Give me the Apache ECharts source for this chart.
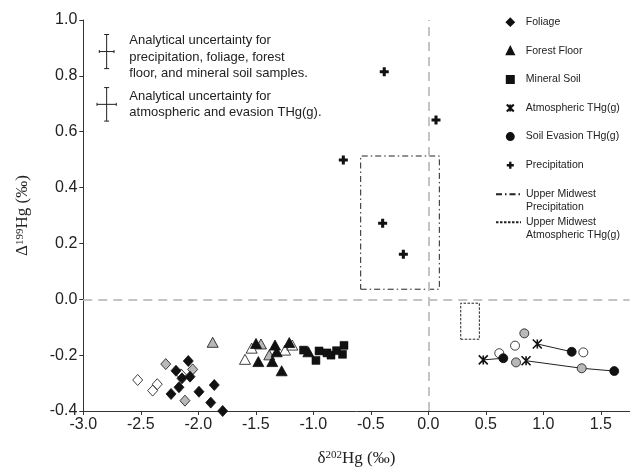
<!DOCTYPE html>
<html>
<head>
<meta charset="utf-8">
<script src="https://cdn.jsdelivr.net/npm/echarts@6/dist/echarts.min.js"></script>
<style>html,body{margin:0;padding:0;background:#fff;}#c{width:631px;height:468px;}</style>
</head>
<body>
<div id="c"></div>
<script>
// ---- data ----
const xTicks = [-3.0, -2.5, -2.0, -1.5, -1.0, -0.5, 0.0, 0.5, 1.0, 1.5];
const yTicks = [-0.4, -0.2, 0.0, 0.2, 0.4, 0.6, 0.8, 1.0];

const foliageWhite = [[-2.527,-0.289],[-2.357,-0.304],[-2.397,-0.327],[-2.150,-0.269]];
const foliageGray  = [[-2.283,-0.232],[-2.049,-0.251],[-2.116,-0.363]];
const foliageBlack = [[-2.087,-0.221],[-2.194,-0.256],[-2.142,-0.283],[-2.072,-0.277],[-2.168,-0.315],[-2.237,-0.339],[-1.994,-0.331],[-1.861,-0.307],[-1.892,-0.370],[-1.788,-0.400]];

const forestWhite = [[-1.594,-0.215],[-1.536,-0.175],[-1.246,-0.182],[-1.183,-0.164]];
const forestGray  = [[-1.875,-0.154],[-1.455,-0.160],[-1.383,-0.199]];
const forestBlack = [[-1.498,-0.158],[-1.478,-0.223],[-1.357,-0.223],[-1.318,-0.188],[-1.333,-0.164],[-1.209,-0.155],[-1.275,-0.256],[-1.043,-0.188]];

const mineralSoil = [[-1.085,-0.182],[-0.950,-0.185],[-0.977,-0.219],[-0.881,-0.192],[-0.846,-0.200],[-0.798,-0.184],[-0.733,-0.165],[-0.746,-0.197]];

const atmospheric = [[0.478,-0.217],[0.850,-0.220],[0.948,-0.160]];

const evasionWhite = [[0.617,-0.193],[0.754,-0.166],[1.348,-0.190]];
const evasionGray  = [[0.763,-0.226],[0.835,-0.122],[1.334,-0.247]];
const evasionBlack = [[0.652,-0.211],[1.247,-0.188],[1.617,-0.257]];

const evasionLinks = [
  [[0.478,-0.217],[0.652,-0.211]],
  [[0.948,-0.160],[1.247,-0.188]],
  [[0.850,-0.220],[1.334,-0.247],[1.617,-0.257]]
];

const precipitation = [[-0.383,0.815],[0.067,0.642],[-0.739,0.499],[-0.397,0.272],[-0.217,0.161]];

const rectPrecipX = [-0.588, 0.096];
const rectPrecipY = [0.036, 0.513];
const rectAtmosX = [0.282, 0.444];
const rectAtmosY = [-0.143, -0.014];

const errCenterX = [-2.797, -2.797];
const errCenterY = [0.887, 0.698];
const errHalfX = [0.064, 0.084];
const errHalfY = [0.061, 0.060];

const errText1 = 'Analytical uncertainty for\nprecipitation, foliage, forest\nfloor, and mineral soil samples.';
const errText2 = 'Analytical uncertainty for\natmospheric and evasion THg(g).';

// ---- styles ----
const BLACK = '#111111', GRAY = '#b8b8b8', WHITE = '#ffffff';
const SANS = 'Liberation Sans, Arial, sans-serif';
const SERIF = 'Liberation Serif, Times New Roman, serif';
const CROSS = 'path://M3.3,0H6.7V3.3H10V6.7H6.7V10H3.3V6.7H0V3.3H3.3Z';
const STAR = 'path://M0,0L10,10M10,0L0,10M5,0L5,10';
const NONE = 'rgba(0,0,0,0)';

function items(arr, fill) {
  return arr.map(p => ({ value: p, itemStyle: { color: fill } }));
}
function rectPath(xs, ys) {
  return [[xs[0],ys[0]],[xs[1],ys[0]],[xs[1],ys[1]],[xs[0],ys[1]],[xs[0],ys[0]]];
}

const chart = echarts.init(document.getElementById('c'), null, { renderer: 'canvas' });

const series = [
  {
    name: 'Upper Midwest\nPrecipitation', type: 'line', z: 1,
    data: rectPath(rectPrecipX, rectPrecipY), symbol: 'none', showSymbol: false, silent: true,
    itemStyle: { color: NONE, borderColor: NONE, opacity: 0 },
    lineStyle: { color: '#222', width: 1, type: [6, 3, 1.5, 3] },
    markLine: {
      silent: true, symbol: 'none', label: { show: false },
      lineStyle: { color: '#c4c4c4', width: 2, type: [9, 6], opacity: 1 },
      data: [{ xAxis: 0 }, { yAxis: 0 }]
    }
  },
  {
    name: 'Upper Midwest\nAtmospheric THg(g)', type: 'line', z: 1,
    data: rectPath(rectAtmosX, rectAtmosY), symbol: 'none', showSymbol: false, silent: true,
    itemStyle: { color: NONE, borderColor: NONE, opacity: 0 },
    lineStyle: { color: '#222', width: 1, type: [2.5, 1.5] }
  }
];
evasionLinks.forEach(l => series.push({
  type: 'line', z: 2, data: l, symbol: 'none', silent: true,
  lineStyle: { color: '#222', width: 1 }
}));
series.push(
  {
    name: 'Foliage', type: 'scatter', z: 3, symbol: 'diamond', symbolSize: [10, 11],
    itemStyle: { color: BLACK, borderColor: '#111', borderWidth: 0.8, opacity: 1 },
    data: items(foliageWhite, WHITE).concat(items(foliageGray, GRAY), items(foliageBlack, BLACK))
  },
  {
    name: 'Forest Floor', type: 'scatter', z: 3, symbol: 'triangle', symbolSize: [11, 10],
    itemStyle: { color: BLACK, borderColor: '#111', borderWidth: 0.8, opacity: 1 },
    data: items(forestWhite, WHITE).concat(items(forestGray, GRAY), items(forestBlack, BLACK))
  },
  {
    name: 'Mineral Soil', type: 'scatter', z: 3, symbol: 'rect', symbolSize: 8,
    itemStyle: { color: BLACK, borderColor: '#111', borderWidth: 0.5, opacity: 1 },
    data: mineralSoil
  },
  {
    name: 'Atmospheric THg(g)', type: 'scatter', z: 4, symbol: STAR, symbolSize: 9,
    itemStyle: { color: NONE, borderColor: '#111', borderWidth: 1.6, opacity: 1 },
    data: atmospheric
  },
  {
    name: 'Soil Evasion THg(g)', type: 'scatter', z: 3, symbol: 'circle', symbolSize: 9,
    itemStyle: { color: BLACK, borderColor: '#111', borderWidth: 0.8, opacity: 1 },
    data: items(evasionWhite, WHITE).concat(items(evasionGray, GRAY), items(evasionBlack, BLACK))
  },
  {
    name: 'Precipitation', type: 'scatter', z: 3, symbol: CROSS, symbolSize: 9,
    itemStyle: { color: BLACK, opacity: 1 },
    data: precipitation
  },
  {
    type: 'custom', z: 3, silent: true,
    data: errCenterX.map((x, i) => [x, errCenterY[i], errHalfX[i], errHalfY[i]]),
    renderItem: function (params, api) {
      const x = api.value(0), y = api.value(1), hx = api.value(2), hy = api.value(3);
      const l = api.coord([x - hx, y]), r = api.coord([x + hx, y]);
      const t = api.coord([x, y + hy]), b = api.coord([x, y - hy]);
      const st = { stroke: '#222', lineWidth: 1 };
      const seg = (x1, y1, x2, y2) => ({ type: 'line', shape: { x1, y1, x2, y2 }, style: st });
      return {
        type: 'group',
        children: [
          seg(l[0], l[1], r[0], r[1]),
          seg(t[0], t[1], b[0], b[1]),
          seg(t[0] - 2.5, t[1], t[0] + 2.5, t[1]),
          seg(b[0] - 2.5, b[1], b[0] + 2.5, b[1]),
          seg(l[0], l[1] - 1.5, l[0], l[1] + 1.5),
          seg(r[0], r[1] - 1.5, r[0], r[1] + 1.5)
        ]
      };
    }
  }
);

const legendText = { fontFamily: SANS, fontSize: 10.5, color: '#222' };
const lineKey = name => ({ name: name, itemStyle: { color: NONE, borderColor: NONE, opacity: 0 } });

chart.setOption({
  animation: false,
  backgroundColor: '#fff',
  grid: { left: 83.3, right: 1.45, top: 20, bottom: 57, containLabel: false, outerBoundsMode: 'none' },
  xAxis: {
    type: 'value', min: -3, max: 1.75,
    name: '{a|δ}{s|202}{a|Hg (‰)}', nameLocation: 'middle', nameGap: 39,
    nameTextStyle: {
      color: '#222',
      rich: {
        a: { fontFamily: SERIF, fontSize: 17, color: '#222' },
        s: { fontFamily: SERIF, fontSize: 11, color: '#222', verticalAlign: 'top' }
      }
    },
    axisLine: { onZero: false, lineStyle: { color: '#333', width: 1 } },
    axisTick: { length: 4, lineStyle: { color: '#333' }, customValues: xTicks },
    axisLabel: { customValues: xTicks, margin: 6, fontFamily: SANS, fontSize: 16, color: '#222',
      formatter: v => v.toFixed(1) },
    splitLine: { show: false }
  },
  yAxis: {
    type: 'value', min: -0.4, max: 1.0, interval: 0.2,
    name: '{a|Δ}{s|199}{a|Hg (‰)}', nameLocation: 'middle', nameGap: 52,
    nameTextStyle: {
      color: '#222',
      rich: {
        a: { fontFamily: SERIF, fontSize: 17, color: '#222' },
        s: { fontFamily: SERIF, fontSize: 11, color: '#222', verticalAlign: 'top' }
      }
    },
    axisLine: { onZero: false, lineStyle: { color: '#333', width: 1 } },
    axisTick: { length: 4, lineStyle: { color: '#333' } },
    axisLabel: { margin: 6, fontFamily: SANS, fontSize: 16, color: '#222',
      formatter: v => v.toFixed(1) },
    splitLine: { show: false }
  },
  legend: [
    {
      orient: 'vertical', left: 505.8, top: 16.2, padding: 0, itemWidth: 7, itemHeight: 7, itemGap: 16.6,
      selectedMode: false,
      textStyle: Object.assign({ lineHeight: 12, padding: [0, 0, 0, 7] }, legendText),
      data: ['Foliage', 'Forest Floor', 'Mineral Soil', 'Atmospheric THg(g)', 'Soil Evasion THg(g)', 'Precipitation']
    },
    {
      orient: 'vertical', left: 495, top: 175.7, padding: 0, itemWidth: 25, itemHeight: 7,
      selectedMode: false,
      formatter: name => ' \n' + name,
      textStyle: Object.assign({ lineHeight: 12.4 }, legendText),
      data: [lineKey('Upper Midwest\nPrecipitation')]
    },
    {
      orient: 'vertical', left: 495, top: 203.7, padding: 0, itemWidth: 25, itemHeight: 7,
      selectedMode: false,
      formatter: name => ' \n' + name,
      textStyle: Object.assign({ lineHeight: 12.4 }, legendText),
      data: [lineKey('Upper Midwest\nAtmospheric THg(g)')]
    }
  ],
  graphic: [
    { type: 'text', left: 129.3, top: 32.5, silent: true,
      style: { text: errText1, font: '13px ' + SANS, lineHeight: 16.5, fill: '#222' } },
    { type: 'text', left: 129.3, top: 88, silent: true,
      style: { text: errText2, font: '13px ' + SANS, lineHeight: 16.5, fill: '#222' } }
  ],
  series: series
});
</script>
</body>
</html>
